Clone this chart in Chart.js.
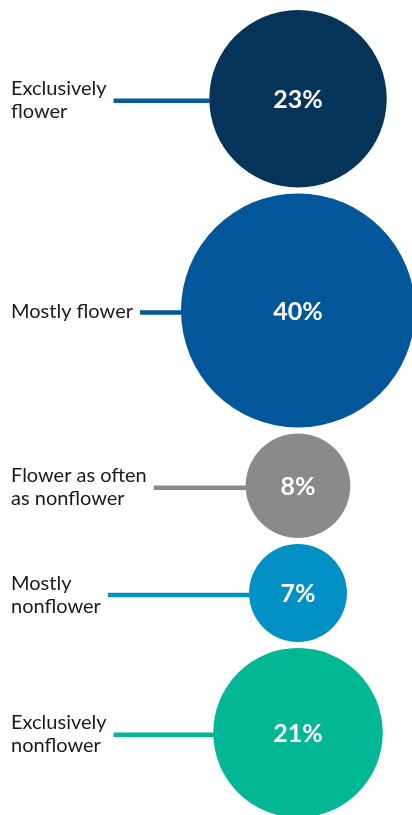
<!DOCTYPE html>
<html>
<head>
<meta charset="utf-8">
<script src="https://cdn.jsdelivr.net/npm/chart.js@4.4.1/dist/chart.umd.min.js"></script>
<style>
  html, body { margin: 0; padding: 0; background: #fff; }
  #wrap { width: 412px; height: 815px; position: relative; }
</style>
</head>
<body>
<div id="wrap"><canvas id="graf"></canvas></div>
<script>
// data
const kategorije = [
    ['Exclusively', 'flower'],
    ['Mostly flower'],
    ['Flower as often', 'as nonflower'],
    ['Mostly', 'nonflower'],
    ['Exclusively', 'nonflower']
];
const udjeli = [23, 40, 8, 7, 21];

// styles
const bojeKrugova = ['#04345a', '#02569a', '#8a8a8a', '#0190c4', '#01b794'];
const bojeLinija  = ['#0a5a9c', '#02569a', '#8a8a8a', '#0190c4', '#01b794'];
const FONT = 'Lato, "Open Sans", sans-serif';

const faktor = 117 / Math.sqrt(40);   // px radius per sqrt(percent)
const razmak = 6;                     // gap between stacked bubbles
const vrh = 10;

// bubbles stacked top to bottom, area ~ share
let pomak = vrh;
const tocke = udjeli.map(v => {
    const r = faktor * Math.sqrt(v);
    const y = pomak + r;
    pomak += 2 * r + razmak;
    return { x: 'udio', y: y, r: r, v: v };
});

const oznake = {
    id: 'oznake',
    afterDatasetsDraw(chart) {
        const ctx = chart.ctx;
        const meta = chart.getDatasetMeta(0);
        ctx.save();
        meta.data.forEach((el, i) => {
            const p = el.getProps(['x', 'y']);
            const r = tocke[i].r;
            const linY = p.y + 2;
            const redovi = kategorije[i];

            ctx.font = '400 20px ' + FONT;
            ctx.fillStyle = '#1a1a1a';
            ctx.textAlign = 'left';
            ctx.textBaseline = 'alphabetic';
            let sirina = 0;
            redovi.forEach((t, j) => {
                const by = linY + 6 + (j - (redovi.length - 1) / 2) * 23;
                ctx.fillText(t, 11, by);
                sirina = Math.max(sirina, ctx.measureText(t).width);
            });

            ctx.strokeStyle = bojeLinija[i];
            ctx.lineWidth = 4.5;
            ctx.beginPath();
            ctx.moveTo(11 + sirina + 7, linY);
            ctx.lineTo(p.x - r + 1, linY);
            ctx.stroke();

            ctx.font = '700 25px ' + FONT;
            ctx.fillStyle = '#ffffff';
            ctx.textAlign = 'center';
            ctx.textBaseline = 'middle';
            ctx.fillText(udjeli[i] + '%', p.x, p.y + 1);
        });
        ctx.restore();
    }
};

new Chart(document.getElementById('graf'), {
    type: 'bubble',
    data: {
        datasets: [{
            data: tocke,
            backgroundColor: bojeKrugova,
            borderWidth: 0,
            hoverRadius: 0,
            clip: false
        }]
    },
    options: {
        responsive: true,
        maintainAspectRatio: false,
        animation: false,
        devicePixelRatio: 1,
        layout: { autoPadding: false, padding: { left: 184, right: 0, top: 0, bottom: 0 } },
        plugins: { legend: { display: false }, tooltip: { enabled: false } },
        scales: {
            x: { type: 'category', labels: ['udio'], offset: true, display: false },
            y: { type: 'linear', min: 0, max: 815, reverse: true, display: false }
        }
    },
    plugins: [oznake]
});
</script>
</body>
</html>
